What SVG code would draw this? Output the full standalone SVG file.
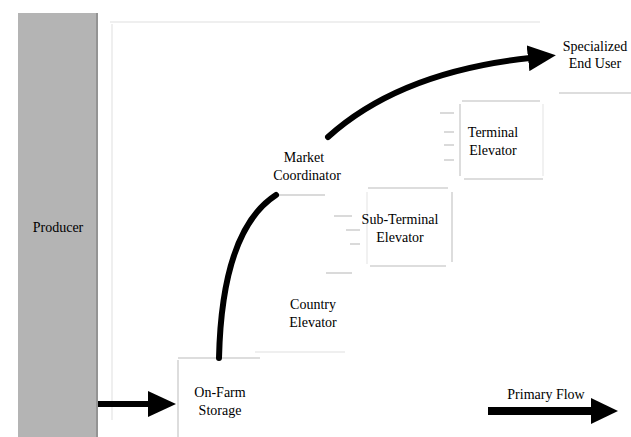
<svg xmlns="http://www.w3.org/2000/svg" width="631" height="437" viewBox="0 0 631 437">
  <defs>
    <marker id="head" markerUnits="userSpaceOnUse" markerWidth="28" markerHeight="26" refX="2" refY="13" orient="auto">
      <path d="M0,0 L28,13 L0,26 Z" fill="#000"/>
    </marker>
    <style>
      text { font-family: "Liberation Serif", serif; font-size: 14px; fill: #000; text-anchor: middle; }
      .edge { stroke: #d2d2d2; stroke-width: 1.5; fill: none; }
      .soft { stroke: #ececec; stroke-width: 1.5; fill: none; }
      .faint { stroke: #efefef; stroke-width: 2; fill: none; }
      .tick { stroke: #dadada; stroke-width: 2; fill: none; }
      .flow { stroke: #000; stroke-width: 6; fill: none; stroke-linecap: round; }
    </style>
  </defs>

  <rect width="631" height="437" fill="#fff"/>

  <!-- background frame lines -->
  <g id="frame">
    <line class="faint" x1="110" y1="22" x2="540" y2="22"/>
    <line class="faint" x1="112" y1="24" x2="112" y2="420"/>
    <line class="faint" x1="255" y1="352" x2="345" y2="352"/>
  </g>

  <!-- producer column -->
  <g id="producer">
    <rect x="18" y="13" width="80" height="424" fill="#b4b4b4"/>
    <line x1="97" y1="13" x2="97" y2="437" stroke="#8a8a8a" stroke-width="1.5"/>
    <text x="58" y="232">Producer</text>
  </g>

  <g id="on-farm-storage">
    <line class="edge" x1="178" y1="358" x2="260" y2="358"/>
    <line class="edge" x1="178" y1="360" x2="178" y2="437"/>
    <text x="220" y="397">On-Farm</text>
    <text x="220" y="415">Storage</text>
  </g>

  <g id="market-coordinator">
    <text x="304" y="162">Market</text>
    <text x="307" y="180">Coordinator</text>
    <line class="tick" x1="276" y1="195" x2="325" y2="195"/>
  </g>

  <g id="country-elevator">
    <text x="313" y="309">Country</text>
    <text x="313" y="327">Elevator</text>
  </g>

  <g id="sub-terminal-elevator">
    <line class="edge" x1="368" y1="188" x2="448" y2="188"/>
    <line class="soft" x1="367" y1="192" x2="367" y2="264"/>
    <line class="edge" x1="452" y1="192" x2="452" y2="262"/>
    <line class="edge" x1="370" y1="266" x2="446" y2="266"/>
    <line class="tick" x1="334" y1="216" x2="352" y2="216"/>
    <line class="tick" x1="346" y1="230" x2="360" y2="230"/>
    <line class="tick" x1="350" y1="244" x2="360" y2="244"/>
    <line class="tick" x1="326" y1="273" x2="352" y2="273"/>
    <text x="400" y="224">Sub-Terminal</text>
    <text x="400" y="242">Elevator</text>
  </g>

  <g id="terminal-elevator">
    <line class="edge" x1="462" y1="101" x2="540" y2="101"/>
    <line class="edge" x1="460" y1="104" x2="460" y2="176"/>
    <line class="soft" x1="543" y1="104" x2="543" y2="176"/>
    <line class="edge" x1="464" y1="179" x2="543" y2="179"/>
    <line class="tick" x1="440" y1="113" x2="454" y2="113"/>
    <line class="tick" x1="444" y1="132" x2="454" y2="132"/>
    <line class="tick" x1="444" y1="145" x2="454" y2="145"/>
    <line class="tick" x1="444" y1="160" x2="454" y2="160"/>
    <text x="493" y="137">Terminal</text>
    <text x="493" y="155">Elevator</text>
  </g>

  <g id="specialized-end-user">
    <line class="edge" x1="559" y1="93" x2="631" y2="93"/>
    <text x="595" y="51">Specialized</text>
    <text x="595" y="68">End User</text>
  </g>

  <g id="legend">
    <text x="546" y="399">Primary Flow</text>
    <line x1="488" y1="411" x2="592" y2="411" stroke="#000" stroke-width="8"/>
    <path d="M591,398 L618,411 L591,424 Z" fill="#000"/>
  </g>

  <!-- connectors -->
  <g id="connectors">
    <line x1="98" y1="404" x2="150" y2="404" stroke="#000" stroke-width="6" marker-end="url(#head)"/>
    <path class="flow" d="M219,358 Q222,230 276,195"/>
    <path class="flow" d="M328,137 Q400,72 530,58" marker-end="url(#head)"/>
  </g>
</svg>
